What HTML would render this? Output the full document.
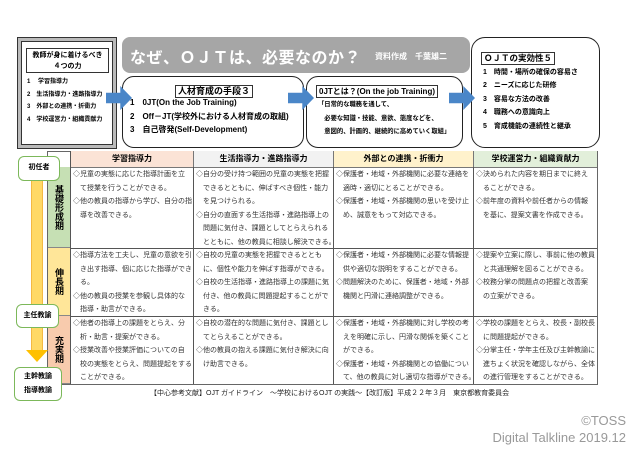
<!DOCTYPE html>
<html><head><meta charset="utf-8"><style>
*{margin:0;padding:0;box-sizing:border-box}
body{width:640px;height:453px;background:#fff;position:relative;overflow:hidden;font-family:"Liberation Sans","Noto Sans CJK JP",sans-serif;color:#000}
.a{position:absolute}
.rb{position:absolute;border:1.5px solid #222;border-radius:12px;background:#fff}
.t{font-size:7px;line-height:13.6px;white-space:nowrap;color:#333}
.b{font-weight:bold}
.arrow{position:absolute;width:26px;height:24px;background:#4a86c8;clip-path:polygon(0 28%,55% 28%,55% 0,100% 50%,55% 100%,55% 72%,0 72%)}
.hd{position:absolute;top:151px;height:16px;font-size:8px;font-weight:bold;text-align:center;line-height:16px;border-left:1px solid #777}
.stage{position:absolute;left:48px;width:22px;font-size:9px;font-weight:bold;writing-mode:vertical-rl;text-align:center;line-height:22px;display:flex;align-items:center;justify-content:center;border-bottom:1px solid #888}
.gb{position:absolute;background:#fff;border:1.5px solid #7cb85a;border-radius:6px;font-size:7px;font-weight:bold;text-align:center}
</style></head><body>
<div class="a" style="left:17px;top:37px;width:100px;height:112px;background:#bbb;border:1px solid #333"></div>
<div class="a" style="left:21px;top:41px;width:92px;height:104px;background:#fff;border:1px solid #333"></div>
<div class="a b" style="left:26px;top:48px;width:83px;height:25px;border:1px solid #333;font-size:7px;text-align:center;line-height:11px;padding-top:1px">教師が身に着けるべき<br>４つの力</div>
<div class="a b" style="left:27px;top:76px;font-size:6px;line-height:12.5px;white-space:nowrap">1　 学習指導力<br>2　生活指導力・進路指導力<br>3　外部との連携・折衝力<br>4　学校運営力・組織貢献力</div>
<div class="a" style="left:122px;top:37px;width:348px;height:36px;background:#a6a6a6;border-radius:8px"></div>
<div class="a b" style="left:130px;top:44px;font-size:16px;color:#fff;letter-spacing:0.5px;white-space:nowrap">なぜ、ＯＪＴは、必要なのか？</div>
<div class="a b" style="left:375px;top:51px;font-size:8px;color:#fff;white-space:nowrap">資料作成　千葉雄二</div>
<div class="rb" style="left:122px;top:76px;width:182px;height:72px"></div>
<div class="a b" style="left:175px;top:85px;font-size:9px;border:1px solid #333;padding:0 2px;line-height:11px;white-space:nowrap">人材育成の手段３</div>
<div class="a b" style="left:130px;top:96px;font-size:8px;line-height:13.5px;white-space:nowrap">1　0JT(On the Job Training)<br>2　Off－JT(学校外における人材育成の取組)<br>3　自己啓発(Self-Development)</div>
<div class="rb" style="left:306px;top:76px;width:157px;height:72px"></div>
<div class="a b" style="left:316px;top:85px;font-size:8px;border:1px solid #333;padding:0 2px;line-height:11px;white-space:nowrap">0JTとは？(On the job Training)</div>
<div class="a b" style="left:318px;top:98px;font-size:6.3px;line-height:13.5px;white-space:nowrap">「日常的な職務を通して、<br>　必要な知識・技能、意欲、態度などを、<br>　意図的、計画的、継続的に高めていく取組」</div>
<div class="rb" style="left:471px;top:37px;width:129px;height:111px;border-radius:14px"></div>
<div class="a b" style="left:481px;top:52px;font-size:8.5px;border:1px solid #333;padding:0 2px;line-height:11px;white-space:nowrap">ＯＪＴの実効性５</div>
<div class="a b" style="left:483px;top:66px;font-size:7px;line-height:13.4px;white-space:nowrap">1　時間・場所の確保の容易さ<br>2　ニーズに応じた研修<br>3　容易な方法の改善<br>4　職務への意識向上<br>5　育成機能の連続性と継承</div>
<div class="arrow" style="left:106px;top:86px"></div>
<div class="arrow" style="left:288px;top:86px"></div>
<div class="arrow" style="left:449px;top:86px"></div>
<div class="a" style="left:47px;top:151px;width:551px;height:234px;border:1px solid #666"></div>
<div class="hd" style="left:70px;width:123px;background:#fbe3d6">学習指導力</div>
<div class="hd" style="left:193px;width:140px;background:#f2f2f2">生活指導力・進路指導力</div>
<div class="hd" style="left:333px;width:140px;background:#fff2cc">外部との連携・折衝力</div>
<div class="hd" style="left:473px;width:124px;background:#e2efda">学校運営力・組織貢献力</div>
<div class="a" style="left:70px;top:167px;width:527px;height:1px;background:#777"></div>
<div class="a" style="left:70px;top:248px;width:527px;height:1px;background:#555"></div>
<div class="a" style="left:70px;top:316px;width:527px;height:1px;background:#555"></div>
<div class="stage" style="top:167px;height:81px;background:#c6e0b4">基礎形成期</div>
<div class="stage" style="top:248px;height:68px;background:#ffe699">伸長期</div>
<div class="stage" style="top:316px;height:68px;background:#f8cbad">充実期</div>
<div class="a" style="left:70px;top:151px;width:1px;height:233px;background:#555"></div>
<div class="a" style="left:193px;top:167px;width:1px;height:217px;background:#555"></div>
<div class="a" style="left:333px;top:167px;width:1px;height:217px;background:#555"></div>
<div class="a" style="left:473px;top:167px;width:1px;height:217px;background:#555"></div>
<div class="a t" style="left:73px;top:168px">◇児童の実態に応じた指導計画を立<br>　て授業を行うことができる。<br>◇他の教員の指導から学び、自分の指<br>　導を改善できる。</div>
<div class="a t" style="left:196px;top:168px">◇自分の受け持つ範囲の児童の実態を把握<br>　できるとともに、伸ばすべき個性・能力<br>　を見つけられる。<br>◇自分の直面する生活指導・進路指導上の<br>　問題に気付き、課題としてとらえられる<br>　とともに、他の教員に相談し解決できる。</div>
<div class="a t" style="left:336px;top:168px">◇保護者・地域・外部機関に必要な連絡を<br>　適時・適切にとることができる。<br>◇保護者・地域・外部機関の思いを受け止<br>　め、誠意をもって対応できる。</div>
<div class="a t" style="left:476px;top:168px">◇決められた内容を期日までに終え<br>　ることができる。<br>◇前年度の資料や前任者からの情報<br>　を基に、提案文書を作成できる。</div>
<div class="a t" style="left:73px;top:249px">◇指導方法を工夫し、児童の意欲を引<br>　き出す指導、個に応じた指導ができ<br>　る。<br>◇他の教員の授業を参観し具体的な<br>　指導・助言ができる。</div>
<div class="a t" style="left:196px;top:249px">◇自校の児童の実態を把握できるととも<br>　に、個性や能力を伸ばす指導ができる。<br>◇自校の生活指導・進路指導上の課題に気<br>　付き、他の教員に問題提起することがで<br>　きる。</div>
<div class="a t" style="left:336px;top:249px">◇保護者・地域・外部機関に必要な情報提<br>　供や適切な説明をすることができる。<br>◇問題解決のために、保護者・地域・外部<br>　機関と円滑に連絡調整ができる。</div>
<div class="a t" style="left:476px;top:249px">◇提案や立案に際し、事前に他の教員<br>　と共通理解を図ることができる。<br>◇校務分掌の問題点の把握と改善案<br>　の立案ができる。</div>
<div class="a t" style="left:73px;top:317px">◇他者の指導上の課題をとらえ、分<br>　析・助言・提案ができる。<br>◇授業改善や授業評価についての自<br>　校の実態をとらえ、問題提起をする<br>　ことができる。</div>
<div class="a t" style="left:196px;top:317px">◇自校の潜在的な問題に気付き、課題とし<br>　てとらえることができる。<br>◇他の教員の抱える課題に気付き解決に向<br>　け助言できる。</div>
<div class="a t" style="left:336px;top:317px">◇保護者・地域・外部機関に対し学校の考<br>　えを明確に示し、円滑な関係を築くこと<br>　ができる。<br>◇保護者・地域・外部機関との協働につい<br>　て、他の教員に対し適切な指導ができる。</div>
<div class="a t" style="left:476px;top:317px">◇学校の課題をとらえ、校長・副校長<br>　に問題提起ができる。<br>◇分掌主任・学年主任及び主幹教諭に<br>　進ちょく状況を確認しながら、全体<br>　の進行管理をすることができる。</div>
<div class="a" style="left:31px;top:178px;width:12px;height:174px;background:#ffd966;border-left:1px solid #f4b942;border-right:1px solid #f4b942"></div>
<div class="a" style="left:26px;top:350px;width:22px;height:12px;background:#ffc000;clip-path:polygon(0 0,100% 0,50% 100%)"></div>
<div class="gb" style="left:18px;top:156px;width:42px;height:25px;line-height:22px">初任者</div>
<div class="gb" style="left:16px;top:304px;width:43px;height:24px;line-height:21px">主任教諭</div>
<div class="gb" style="left:14px;top:367px;width:48px;height:34px;line-height:14px;padding-top:2px">主幹教諭<br>指導教諭</div>
<div class="a" style="left:150px;top:388px;font-size:7px;white-space:nowrap;color:#222">【中心参考文献】OJT ガイドライン　～学校におけるOJT の実践～【改訂版】平成２２年３月　東京都教育委員会</div>
<div class="a" style="right:14px;top:413px;font-size:13px;color:#999;white-space:nowrap">©TOSS</div>
<div class="a" style="right:14px;top:430px;font-size:13px;color:#999;white-space:nowrap">Digital Talkline 2019.12</div>
</body></html>
